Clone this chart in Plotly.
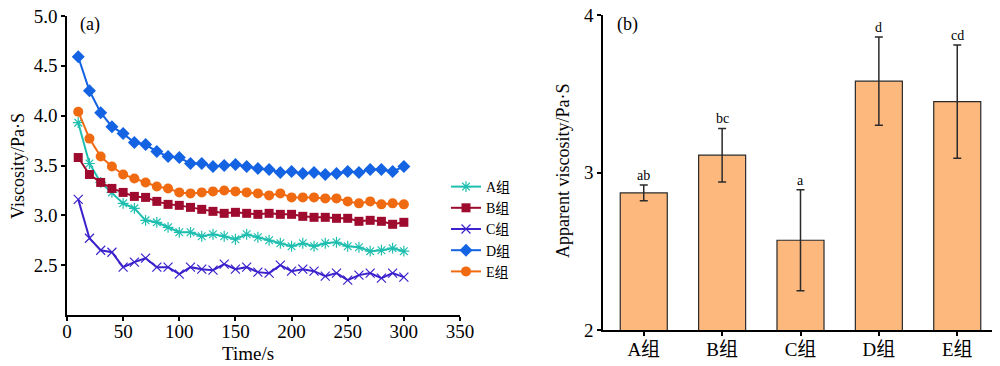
import plotly.graph_objects as go

time_s = list(range(10, 301, 10))
group_names = ["A组", "B组", "C组", "D组", "E组"]

visc_A = [3.93, 3.52, 3.33, 3.23, 3.12, 3.07, 2.95, 2.93, 2.88, 2.83,
          2.83, 2.79, 2.81, 2.79, 2.76, 2.81, 2.78, 2.75, 2.72, 2.69,
          2.72, 2.69, 2.72, 2.73, 2.69, 2.68, 2.64, 2.65, 2.67, 2.64]
visc_B = [3.58, 3.41, 3.33, 3.27, 3.23, 3.19, 3.18, 3.14, 3.11, 3.10,
          3.08, 3.06, 3.04, 3.02, 3.03, 3.02, 3.01, 3.02, 3.01, 3.01,
          2.99, 2.98, 2.98, 2.97, 2.97, 2.94, 2.95, 2.94, 2.91, 2.93]
visc_C = [3.16, 2.77, 2.65, 2.63, 2.48, 2.53, 2.57, 2.48, 2.48, 2.41,
          2.48, 2.46, 2.45, 2.51, 2.46, 2.48, 2.43, 2.42, 2.50, 2.44,
          2.46, 2.44, 2.39, 2.42, 2.35, 2.40, 2.42, 2.37, 2.42, 2.38]
visc_D = [4.59, 4.25, 4.03, 3.89, 3.82, 3.73, 3.71, 3.64, 3.59, 3.58,
          3.52, 3.52, 3.49, 3.50, 3.51, 3.49, 3.47, 3.46, 3.43, 3.44,
          3.42, 3.43, 3.41, 3.42, 3.44, 3.43, 3.46, 3.46, 3.44, 3.49]
visc_E = [4.04, 3.77, 3.59, 3.49, 3.41, 3.37, 3.33, 3.29, 3.27, 3.23,
          3.22, 3.23, 3.24, 3.25, 3.24, 3.23, 3.22, 3.20, 3.22, 3.18,
          3.18, 3.18, 3.17, 3.17, 3.14, 3.12, 3.14, 3.11, 3.12, 3.11]

apparent_visc = [2.87, 3.11, 2.57, 3.58, 3.45]
apparent_err = [0.05, 0.17, 0.32, 0.28, 0.36]
sig_letters = ["ab", "bc", "a", "d", "cd"]

left_yticks = [2.5, 3.0, 3.5, 4.0, 4.5, 5.0]
left_xticks = [0, 50, 100, 150, 200, 250, 300, 350]
right_yticks = [2, 3, 4]

FONT = "Liberation Serif, Times New Roman, Noto Sans CJK SC"

# page has an 8px body margin: figure is sized to fit the 1000x366 window
W, H = 992, 358

series = [
    ("A组", visc_A, "#1fbfb0", dict(symbol="asterisk-open", size=9, line=dict(width=1.2, color="#1fbfb0"))),
    ("B组", visc_B, "#9e0b2e", dict(symbol="square", size=9)),
    ("C组", visc_C, "#3b22cc", dict(symbol="x-thin-open", size=9, line=dict(width=1.2, color="#3b22cc"))),
    ("D组", visc_D, "#1463e3", dict(symbol="diamond", size=10)),
    ("E组", visc_E, "#f06a12", dict(symbol="circle", size=10)),
]

fig = go.Figure()
for name, vals, col, mk in series:
    mk = dict(mk)
    mk["color"] = col
    fig.add_trace(go.Scatter(x=time_s, y=vals, name=name, mode="lines+markers",
                             line=dict(color=col, width=2), marker=mk,
                             xaxis="x", yaxis="y"))

fig.add_trace(go.Bar(x=group_names, y=apparent_visc,
                     marker=dict(color="#fdb97d", line=dict(color="#2a2a2a", width=1.2)),
                     width=0.6, showlegend=False,
                     error_y=dict(type="data", array=apparent_err, color="#2a2a2a",
                                  thickness=1.5, width=4),
                     xaxis="x2", yaxis="y2"))

axis_common = dict(showgrid=False, zeroline=False, showline=True, linecolor="#000",
                   linewidth=1.5, ticks="outside", ticklen=4, tickwidth=1.5,
                   tickcolor="#000", automargin=False, ticklabeloverflow="allow",
                   tickfont=dict(family=FONT, size=19, color="#000"))


def px(xv):
    return (xv - 8) / W


def py(yv):
    return 1 - (yv - 8) / H


fig.update_layout(
    width=W, height=H,
    margin=dict(l=0, r=0, t=0, b=0),
    paper_bgcolor="white", plot_bgcolor="white",
    font=dict(family=FONT, color="#000"),
    xaxis=dict(domain=[px(67), px(460)], range=[0, 350], tickvals=left_xticks,
               anchor="y", ticklabelstandoff=-6, **axis_common),
    yaxis=dict(domain=[py(315), py(16)], range=[2, 5], tickvals=left_yticks,
               tickformat=".1f", anchor="x", **axis_common),
    xaxis2=dict(domain=[px(603), px(998)], range=[-0.52, 4.52], anchor="y2",
                ticklabelstandoff=-3, **axis_common),
    yaxis2=dict(domain=[py(330), py(15)], range=[2, 4], tickvals=right_yticks,
                anchor="x2", **axis_common),
    legend=dict(x=px(446), y=py(171), xanchor="left", yanchor="top",
                font=dict(family=FONT, size=14, color="#000"),
                bgcolor="rgba(0,0,0,0)", tracegroupgap=0, itemwidth=30),
    showlegend=True,
)

ann_common = dict(xref="paper", yref="paper", showarrow=False, xanchor="center", yanchor="middle")
annotations = [
    dict(text="(a)", x=px(90), y=py(25), font=dict(family=FONT, size=18), **ann_common),
    dict(text="(b)", x=px(627), y=py(25), font=dict(family=FONT, size=18), **ann_common),
    dict(text="Time/s", x=px(248), y=py(353), font=dict(family=FONT, size=19), **ann_common),
    dict(text="Viscosity/Pa·S", x=px(18), y=py(166), textangle=-90,
         font=dict(family=FONT, size=18), **ann_common),
    dict(text="Apparent viscosity/Pa·S", x=px(563), y=py(171), textangle=-90,
         font=dict(family=FONT, size=18), **ann_common),
]
for g, v, e, s in zip(group_names, apparent_visc, apparent_err, sig_letters):
    annotations.append(dict(text=s, x=g, y=v + e, xref="x2", yref="y2", showarrow=False,
                            xanchor="center", yanchor="bottom", yshift=0,
                            font=dict(family=FONT, size=14)))
fig.update_layout(annotations=annotations)

fig.write_html("out.html")
